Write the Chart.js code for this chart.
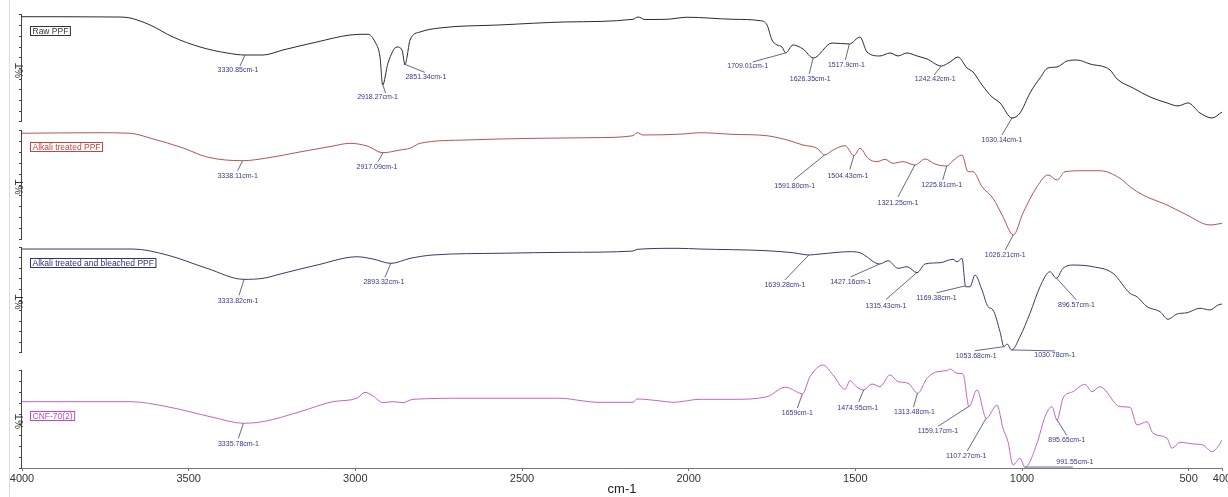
<!DOCTYPE html>
<html>
<head>
<meta charset="utf-8">
<title>FTIR spectra</title>
<script src="https://cdn.jsdelivr.net/npm/chart.js@4.4.1/dist/chart.umd.min.js"></script>
<style>
  html, body { margin: 0; padding: 0; background: #fff; overflow: hidden; }
  #wrap { position: relative; width: 1228px; height: 497px; overflow: hidden; }
  #wrap canvas { position: absolute; left: 0; top: 0; }
  #frame { position: absolute; left: 9px; top: 0; bottom: 0; border-left: 1px solid #dcdcdc; }
</style>
</head>
<body>
<div id="wrap">
  <canvas id="ftir" width="1240" height="497"></canvas>
  <div id="frame"></div>
</div>
<script>
// x axis (wavenumber, cm-1)
const xTicks = [4000, 3500, 3000, 2500, 2000, 1500, 1000, 500, 400];

// panel names, top to bottom
const seriesNames = ['Raw PPF', 'Alkali treated PPF', 'Alkali treated and bleached PPF', 'CNF-70(2)'];
// highest %T tick of each panel
const panelTop = [100, 100, 100, 90];

// Raw PPF
const rawWn = [4000, 3712, 3676, 3616, 3547, 3466, 3385, 3331, 3277, 3217, 3115, 3016, 2962, 2941, 2926, 2918, 2902, 2875, 2860, 2851,
  2845, 2836, 2806, 2746, 2566, 2365, 2167, 2152, 2131, 2065, 2005, 1867, 1786, 1765, 1750, 1735, 1720, 1709, 1687, 1657,
  1626, 1570, 1518, 1486, 1465, 1426, 1396, 1372, 1345, 1315, 1285, 1242, 1216, 1192, 1165, 1147, 1120, 1090, 1066, 1030,
  1006, 976, 946, 922, 895, 865, 835, 796, 736, 715, 667, 616, 565, 532, 502, 466, 430, 400];
const rawT = [98.4, 98.1, 97.2, 90.7, 79.4, 70.1, 64.5, 62.6, 62.6, 67.3, 74.8, 81.3, 82.0, 74.8, 60.7, 34.6, 55.1, 70.1, 67.3, 53.3,
  60.7, 76.6, 84.1, 87.9, 90.7, 93.5, 96.0, 98.1, 95.8, 96.0, 97.9, 96.0, 94.7, 90.7, 76.6, 72.0, 70.1, 64.5, 72.0, 68.2,
  59.8, 73.8, 72.9, 79.4, 65.4, 61.7, 64.5, 61.7, 64.5, 61.7, 58.9, 52.3, 56.1, 60.7, 50.5, 46.7, 34.6, 23.4, 17.8, 3.7,
  8.4, 27.1, 41.1, 50.5, 51.4, 57.0, 57.9, 54.2, 48.6, 40.2, 31.8, 23.4, 17.8, 15.0, 17.8, 8.4, 3.7, 9.3];
const rawPeaks = ['3330.85cm-1', '2918.27cm-1', '2851.34cm-1', '1709.01cm-1', '1626.35cm-1', '1517.9cm-1', '1242.42cm-1', '1030.14cm-1'];

// Alkali treated PPF
const alkWn = [4000, 3775, 3676, 3616, 3517, 3445, 3338, 3265, 3166, 3067, 3016, 2965, 2917, 2866, 2836, 2806, 2665, 2467, 2287, 2167,
  2155, 2137, 2017, 1966, 1867, 1765, 1705, 1657, 1615, 1592, 1567, 1531, 1504, 1486, 1462, 1435, 1411, 1387, 1357, 1321,
  1291, 1261, 1226, 1207, 1180, 1162, 1147, 1120, 1087, 1057, 1026, 997, 955, 922, 895, 871, 817, 766, 706, 676,
  637, 565, 505, 436, 400];
const alkT = [97.9, 98.4, 97.9, 93.5, 84.3, 75.9, 72.5, 75.0, 80.6, 86.1, 88.6, 86.1, 79.9, 82.4, 84.0, 88.6, 91.7, 93.2, 93.8, 95.6,
  98.4, 96.3, 97.2, 98.4, 96.9, 95.6, 91.7, 87.0, 84.0, 77.8, 82.4, 86.4, 77.1, 84.0, 74.7, 71.6, 73.8, 70.1, 71.6, 68.5,
  74.1, 69.4, 67.6, 72.5, 77.8, 62.3, 62.3, 48.4, 37.7, 20.6, 3.7, 24.1, 48.4, 59.3, 54.6, 62.3, 63.2, 63.2, 56.2, 48.4,
  40.7, 31.5, 22.2, 13.0, 14.5];
const alkPeaks = ['3338.11cm-1', '2917.09cm-1', '1591.80cm-1', '1504.43cm-1', '1321.25cm-1', '1225.81cm-1', '1026.21cm-1'];

// Alkali treated and bleached PPF
const bleWn = [4000, 3775, 3667, 3565, 3445, 3334, 3277, 3217, 3115, 2995, 2947, 2893, 2836, 2767, 2566, 2365, 2167, 2155, 2035, 1966,
  1765, 1687, 1639, 1606, 1516, 1486, 1427, 1402, 1372, 1345, 1315, 1291, 1246, 1207, 1195, 1180, 1169, 1156, 1141, 1120,
  1102, 1087, 1066, 1054, 1045, 1031, 1006, 976, 946, 916, 897, 877, 847, 787, 727, 676, 655, 625, 586, 562,
  535, 505, 466, 436, 412, 400];
const bleT = [98.1, 98.1, 98.1, 92.5, 79.9, 69.5, 70.5, 75.2, 83.0, 90.8, 88.7, 84.6, 89.3, 92.5, 94.1, 95.0, 96.2, 97.8, 98.8, 98.1,
  96.5, 94.6, 92.5, 93.4, 95.6, 94.6, 84.0, 87.1, 79.9, 81.4, 75.8, 84.0, 85.2, 88.4, 86.1, 89.3, 62.5, 62.5, 73.6, 59.4,
  43.7, 40.6, 20.1, 5.9, 8.5, 2.8, 15.4, 37.5, 62.5, 76.7, 70.5, 79.9, 83.0, 81.4, 75.2, 56.3, 53.1, 43.7, 39.0, 31.8,
  36.8, 38.0, 42.2, 40.6, 45.3, 46.2];
const blePeaks = ['3333.82cm-1', '2893.32cm-1', '1639.28cm-1', '1427.16cm-1', '1315.43cm-1', '1169.38cm-1', '1053.68cm-1', '1030.78cm-1', '896.57cm-1'];

// CNF-70(2)
const cnfWn = [4000, 3676, 3565, 3427, 3336, 3277, 3166, 3067, 2995, 2971, 2947, 2917, 2887, 2857, 2827, 2665, 2386, 2317, 2275, 2167,
  2155, 2086, 2047, 1966, 1867, 1765, 1711, 1666, 1659, 1636, 1597, 1567, 1531, 1516, 1495, 1475, 1450, 1426, 1396, 1372,
  1342, 1313, 1285, 1255, 1225, 1216, 1195, 1177, 1159, 1135, 1107, 1075, 1057, 1042, 1027, 1006, 991, 955, 931, 910,
  895, 877, 847, 811, 790, 766, 706, 676, 655, 625, 607, 565, 550, 526, 487, 457, 430, 412, 400];
const cnfT = [61.5, 61.5, 56.9, 47.0, 41.5, 43.0, 52.2, 61.5, 64.7, 70.2, 66.8, 60.6, 61.5, 60.6, 63.7, 64.7, 64.7, 62.2, 60.9, 60.9,
  64.0, 62.2, 60.9, 63.7, 63.7, 66.1, 74.9, 69.3, 68.6, 84.7, 95.5, 86.3, 73.0, 81.0, 74.9, 72.4, 77.9, 75.4, 86.3, 80.1,
  78.6, 69.3, 83.2, 89.3, 90.3, 91.8, 87.8, 87.2, 56.9, 72.4, 46.1, 58.4, 36.8, 24.4, 2.8, 9.0, 0.6, 22.9, 47.6, 56.9,
  44.5, 64.7, 70.8, 77.6, 70.8, 75.4, 56.9, 56.3, 39.9, 42.9, 32.2, 27.6, 18.3, 23.8, 22.3, 21.3, 15.1, 19.8, 26.0];
const cnfPeaks = ['3335.78cm-1', '1659cm-1', '1474.95cm-1', '1313.48cm-1', '1159.17cm-1', '1107.27cm-1', '895.65cm-1', '991.55cm-1'];

const panels = [
  { wn: rawWn, t: rawT, peaks: rawPeaks },
  { wn: alkWn, t: alkT, peaks: alkPeaks },
  { wn: bleWn, t: bleT, peaks: blePeaks },
  { wn: cnfWn, t: cnfT, peaks: cnfPeaks }
];

// styling / layout
const FONT = '"Liberation Sans", Arial, sans-serif';
const traceColors = ['#2b2b2b', '#b5554e', '#383a6c', '#c464c8'];
const tagColors = ['#333333', '#c0463f', '#2e2f78', '#c048c4'];
const axisRange = [[-4.7, 102.8], [-3.7, 103.7], [-8.5, 103.8], [0, 98.3]];
const axisWeight = [115, 116, 119, 106];
// leader end dx,dy and label centre dx,dy, in px from the peak
const peakOffsets = [
  [[-5, 11, -7, 15], [3, 9, -5, 13], [20, 8, 21, 13], [-33, 9, -38, 13], [-4, 16, -3, 21], [-4, 16, -3, 21], [-7, 9, -6, 13], [-10, 17, -10, 22]],
  [[-5, 10, -5, 15], [-5, 9, -6, 14], [-31, 25, -30, 31], [-4, 14, -6, 20], [-17, 32, -17, 38], [-4, 14, -5, 19], [-8, 15, -8, 20]],
  [[-5, 16, -6, 22], [-6, 14, -7, 19], [-24, 25, -24, 30], [-29, 13, -29, 18], [-31, 27, -31, 33], [-29, 7, -29, 12], [-29, 4, -28, 9], [43, 1, 43, 5], [20, 22, 20, 27]],
  [[-5, 15, -5, 21], [-5, 14, -5, 19], [-5, 12, -6, 18], [-4, 14, -3, 19], [-31, 20, -31, 25], [-19, 33, -20, 38], [10, 16, 10, 21], [48, 0, 50, -5]]
];

// linear lookup of a trace value at a wavenumber
function valueAt(wn, xs, ys) {
  for (let i = 0; i < xs.length - 1; i++) {
    if (wn <= xs[i] && wn >= xs[i + 1]) {
      const f = (xs[i] - wn) / (xs[i] - xs[i + 1]);
      return ys[i] + f * (ys[i + 1] - ys[i]);
    }
  }
  return ys[ys.length - 1];
}

// axis brackets, %T, name tags and peak labels
const decorations = {
  id: 'decorations',
  afterDraw(chart) {
    const ctx = chart.ctx;
    const xs = chart.scales.x;
    ctx.save();
    panels.forEach((p, i) => {
      const ys = chart.scales['y' + i];
      const top = ys.getPixelForValue(panelTop[i]);
      const bot = ys.getPixelForValue(0);
      const ax = Math.round(ys.right) - 0.5;

      ctx.strokeStyle = '#444';
      ctx.lineWidth = 1;
      ctx.beginPath();
      ctx.moveTo(ax, top);
      ctx.lineTo(ax, bot);
      ctx.stroke();

      ctx.save();
      ctx.translate(20, (top + bot) / 2 + 2);
      ctx.rotate(-Math.PI / 2);
      ctx.fillStyle = '#333';
      ctx.font = '10px ' + FONT;
      ctx.textAlign = 'center';
      ctx.textBaseline = 'middle';
      ctx.fillText('%T', 0, 0);
      ctx.restore();

      // name tag just under the start of the trace
      ctx.font = '8.5px ' + FONT;
      const tw = ctx.measureText(seriesNames[i]).width;
      const bx = chart.chartArea.left + 8.5;
      const by = Math.round(ys.getPixelForValue(p.t[0]) + 9) + 0.5;
      ctx.fillStyle = '#fff';
      ctx.fillRect(bx, by, tw + 4, 9);
      ctx.strokeStyle = tagColors[i];
      ctx.strokeRect(bx, by, tw + 4, 9);
      ctx.fillStyle = tagColors[i];
      ctx.textAlign = 'left';
      ctx.textBaseline = 'middle';
      ctx.fillText(seriesNames[i], bx + 2, by + 5);

      // peak labels
      p.peaks.forEach((label, k) => {
        const wn = parseFloat(label);
        const px = xs.getPixelForValue(wn);
        const py = ys.getPixelForValue(valueAt(wn, p.wn, p.t));
        const o = peakOffsets[i][k];
        ctx.strokeStyle = '#3d4070';
        ctx.lineWidth = 0.8;
        ctx.beginPath();
        ctx.moveTo(px, py);
        ctx.lineTo(px + o[0], py + o[1]);
        ctx.stroke();
        ctx.fillStyle = '#34388a';
        ctx.font = '7px ' + FONT;
        ctx.textAlign = 'center';
        ctx.textBaseline = 'middle';
        ctx.fillText(label, px + o[2], py + o[3]);
      });
    });
    ctx.restore();
  }
};

const scales = {
  x: {
    type: 'linear',
    reverse: true,
    min: 400,
    max: 4000,
    afterBuildTicks: s => { s.ticks = xTicks.map(v => ({ value: v })); },
    afterFit: s => { s.height = 29; },
    grid: { drawOnChartArea: false, tickLength: 3, color: '#777' },
    border: { color: '#777' },
    ticks: {
      color: '#333', font: { size: 11, family: FONT }, padding: 1,
      maxRotation: 0, autoSkip: false, callback: v => String(v)
    },
    title: { display: true, text: 'cm-1', color: '#222', font: { size: 13, family: FONT }, padding: 0 }
  }
};
// stacked axes are laid out bottom-up, so add the bottom panel first
for (let i = panels.length - 1; i >= 0; i--) {
  const tickVals = [];
  for (let v = 0; v <= panelTop[i]; v += 10) tickVals.push(v);
  scales['y' + i] = {
    type: 'linear',
    position: 'left',
    stack: 'ftir',
    stackWeight: axisWeight[i],
    min: axisRange[i][0],
    max: axisRange[i][1],
    afterBuildTicks: s => { s.ticks = tickVals.map(v => ({ value: v })); },
    afterFit: s => { s.width = 22; },
    ticks: { display: false },
    grid: { drawOnChartArea: false, drawTicks: true, tickLength: 3, color: '#444' },
    border: { display: false }
  };
}

new Chart(document.getElementById('ftir'), {
  type: 'line',
  data: {
    datasets: panels.map((p, i) => ({
      label: seriesNames[i],
      data: p.wn.map((w, j) => ({ x: w, y: p.t[j] })),
      yAxisID: 'y' + i,
      borderColor: traceColors[i],
      borderWidth: 1,
      pointRadius: 0,
      cubicInterpolationMode: 'monotone'
    }))
  },
  options: {
    responsive: false,
    animation: false,
    devicePixelRatio: 1,
    layout: { padding: { top: 12, right: 18, left: 0, bottom: 0 } },
    plugins: { legend: { display: false }, tooltip: { enabled: false } },
    scales: scales
  },
  plugins: [decorations]
});
</script>
</body>
</html>
